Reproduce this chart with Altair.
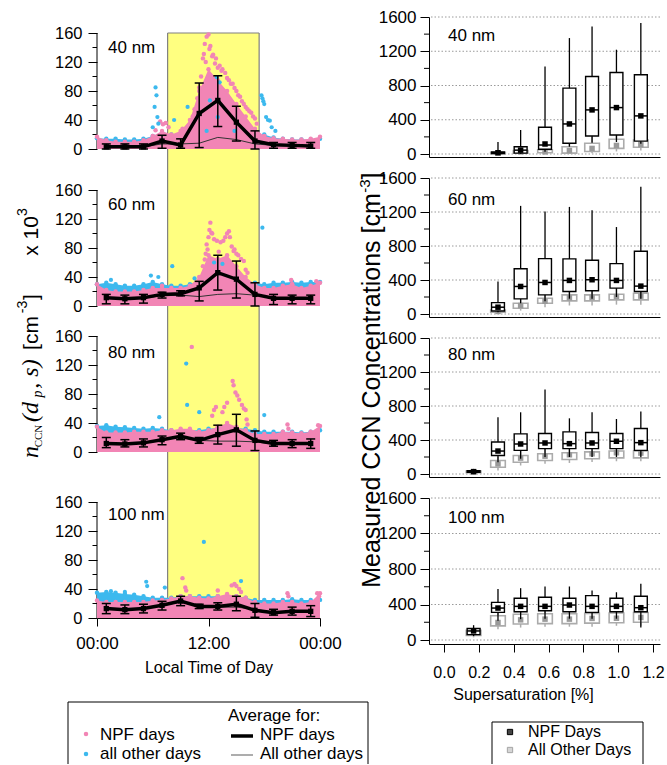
import altair as alt
import pandas as pd

FONT = "Liberation Sans"
SERIF = "Liberation Serif"
PINK = "#F285B5"
BLUE = "#3CB9EE"
YELLOW = "#FFFF80"

# ---------------- data: left column (time series) ----------------
SIZES = ["40 nm", "60 nm", "80 nm", "100 nm"]
HOURS = list(range(25))
AVG_HOURS = [1, 3, 5, 7, 9, 11, 13, 15, 17, 19, 21, 23]
NPF_WINDOW = [7.6, 17.45]

BLUE_ENV = [
    [15, 14, 14, 13, 13, 14, 18, 22, 20, 18, 20, 25, 30, 30, 28, 22, 20, 18, 20, 16, 14, 13, 13, 13, 14],
    [30, 32, 30, 28, 28, 30, 33, 30, 28, 28, 30, 35, 45, 50, 48, 42, 35, 32, 30, 32, 32, 33, 32, 33, 33],
    [36, 37, 35, 34, 33, 32, 33, 32, 30, 30, 30, 30, 32, 33, 33, 33, 32, 30, 28, 28, 28, 28, 27, 28, 30],
    [35, 36, 35, 33, 32, 30, 28, 28, 28, 30, 30, 30, 30, 30, 30, 30, 28, 25, 25, 25, 25, 26, 25, 25, 25],
]
PINK_ENV = [
    [17, 12, 10, 10, 10, 12, 18, 25, 20, 25, 40, 80, 110, 95, 80, 62, 45, 28, 18, 15, 14, 13, 13, 14, 17],
    [30, 22, 20, 20, 20, 22, 25, 25, 25, 25, 28, 40, 70, 65, 70, 55, 40, 30, 25, 25, 28, 30, 25, 28, 32],
    [35, 27, 27, 27, 28, 28, 28, 30, 30, 32, 32, 28, 30, 35, 40, 35, 30, 25, 25, 25, 28, 27, 26, 28, 36],
    [24, 22, 22, 22, 22, 22, 24, 25, 27, 30, 30, 28, 27, 30, 33, 30, 28, 22, 20, 20, 22, 22, 20, 22, 34],
]
PINK_PTS = [
    [(6.3, 26), (6.8, 38), (7.1, 34), (7.4, 36), (7.7, 30), (9.2, 28), (10.3, 45), (10.5, 55), (10.8, 70),
     (11.0, 85), (11.2, 100), (11.4, 125), (11.5, 131), (11.6, 145), (11.7, 120), (11.8, 155), (12.0, 158),
     (12.1, 138), (12.2, 142), (12.4, 128), (12.5, 130), (12.7, 118), (12.8, 125), (13.0, 112), (13.2, 115),
     (13.4, 108), (13.5, 110), (13.8, 105), (14.0, 98), (14.2, 95), (14.4, 90), (14.6, 90), (14.8, 84),
     (15.0, 80), (15.2, 74), (15.4, 72), (15.6, 66), (15.8, 62), (16.0, 58), (16.2, 55), (16.4, 52),
     (16.6, 50), (16.8, 45), (17.0, 42), (17.2, 35)],
    [(7.0, 28), (11.4, 55), (11.6, 64), (11.7, 72), (11.8, 85), (11.9, 78), (12.0, 95), (12.1, 105),
     (12.2, 115), (12.3, 101), (12.4, 100), (12.6, 92), (12.9, 90), (13.1, 75), (13.3, 88), (13.6, 90),
     (13.8, 95), (14.0, 100), (14.2, 103), (14.3, 95), (14.5, 82), (14.7, 76), (14.8, 78), (15.0, 72),
     (15.2, 70), (15.5, 65), (15.8, 62), (16.0, 50), (16.2, 46), (20.9, 36), (21.0, 30), (23.6, 34), (23.8, 30)],
    [(10.2, 145), (12.4, 50), (12.6, 58), (12.8, 62), (13.5, 55), (13.7, 62), (14.0, 68), (14.6, 98),
     (14.7, 92), (14.9, 82), (15.1, 78), (15.3, 72), (15.6, 65), (15.8, 60), (16.0, 58), (16.1, 45),
     (16.2, 38), (20.5, 38), (20.6, 32), (23.8, 37)],
    [(9.2, 55), (9.5, 42), (9.6, 38), (13.0, 38), (14.5, 45), (14.8, 47), (15.0, 44), (15.3, 40),
     (15.5, 36), (20.5, 34), (20.6, 30), (23.7, 34), (23.9, 30)],
]
BLUE_PTS = [
    [(6.0, 30), (6.2, 58), (6.3, 85), (6.4, 74), (6.5, 44), (6.6, 35), (8.3, 40), (9.75, 58), (11.8, 25),
     (12.15, 67), (12.9, 99), (13.0, 44), (13.2, 92), (14.8, 25), (17.7, 74), (17.8, 70), (17.9, 66),
     (18.0, 62), (18.2, 44), (18.4, 40), (18.6, 39), (18.8, 30), (19.2, 25)],
    [(1.5, 36), (5.8, 42), (6.6, 40), (8.1, 55), (10.5, 38), (12.6, 60), (13.5, 58), (17.8, 108)],
    [(6.7, 48), (9.6, 122), (9.7, 65), (11.0, 55), (18.0, 51)],
    [(1.5, 37), (3.0, 36), (5.3, 50), (5.4, 44), (7.3, 42), (11.5, 105), (15.5, 51)],
]
NPF_MEAN = [
    [3, 3, 3, 11, 5.5, 49, 67, 37, 11, 6, 5, 4],
    [11.5, 10, 11.5, 16, 17, 25, 46, 37, 16, 10.6, 10.6, 10.6],
    [11.7, 11, 12.6, 17, 21.6, 15.8, 24, 30.6, 16, 11.7, 11.7, 11.7],
    [13, 11.5, 13, 17.5, 23.4, 16, 16, 19, 10.6, 7.4, 9.2, 9.2],
]
NPF_LO = [
    [0, 0, 0, 1, 1, 2, 31, 11, 0, 1, 1, 1],
    [3, 3, 4, 11, 14, 7, 22, 11, 0, 2, 3, 3],
    [6, 7, 7, 10, 17, 12, 11, 8, 2, 8, 6, 5],
    [6, 6, 7, 11, 17, 13, 11, 10, 1, 4, 4, 2],
]
NPF_HI = [
    [7, 7, 7, 19, 14, 91, 101, 59, 25, 9, 9, 9],
    [16, 15, 16, 19, 21, 34, 70, 62, 32, 16, 15, 15],
    [20, 17, 18, 22, 26, 20, 37, 52, 29, 16, 17, 18],
    [20, 18, 19, 23, 30, 19, 21, 30, 20, 12, 15, 17],
]
OTHER_MEAN = [
    [3, 3, 3, 7, 7, 8, 16, 13, 7, 5, 4, 4],
    [11, 10, 11, 14, 15, 13, 16, 17, 15, 11, 11, 11],
    [11.7, 11, 12.6, 17, 20, 16, 15, 15, 14, 11, 11, 11.5],
    [13, 11.5, 13, 17, 22, 16, 15, 15, 12, 8, 9, 9],
]

# ---------------- data: right column (box plots) ----------------
SS = [
    [0.31, 0.44, 0.58, 0.72, 0.85, 0.99, 1.13],
    [0.31, 0.44, 0.58, 0.72, 0.85, 0.99, 1.13],
    [0.17, 0.31, 0.44, 0.58, 0.72, 0.85, 0.99, 1.13],
    [0.17, 0.31, 0.44, 0.58, 0.72, 0.85, 0.99, 1.13],
]
NPF_Q1 = [
    [5, 10, 55, 125, 211, 222, 150],
    [36, 178, 225, 265, 273, 304, 265],
    [20, 218, 278, 298, 298, 298, 298, 278],
    [61, 311, 318, 330, 318, 311, 318, 318],
]
NPF_Q3 = [
    [25, 85, 312, 769, 905, 952, 925],
    [134, 533, 652, 648, 632, 593, 739],
    [40, 377, 472, 476, 496, 488, 476, 536],
    [129, 424, 470, 481, 470, 500, 470, 493],
]
NPF_MED = [
    [15, 45, 105, 351, 515, 542, 445],
    [80, 324, 371, 395, 403, 395, 328],
    [28, 270, 353, 365, 357, 365, 385, 369],
    [102, 360, 379, 379, 394, 379, 379, 364],
]
NPF_AVG = [
    [15, 45, 117, 351, 515, 542, 445],
    [80, 324, 371, 395, 403, 395, 328],
    [28, 270, 353, 365, 357, 365, 385, 369],
    [102, 360, 379, 379, 394, 379, 379, 364],
]
NPF_WLO = [
    [0, 0, 27, 85, 130, 140, 120],
    [20, 126, 150, 180, 180, 200, 180],
    [10, 139, 180, 200, 200, 200, 200, 198],
    [45, 216, 235, 240, 240, 240, 240, 140],
]
NPF_WHI = [
    [140, 280, 1022, 1354, 1490, 1218, 1530],
    [383, 1272, 1205, 1260, 1221, 1023, 1497],
    [60, 667, 726, 993, 655, 726, 647, 734],
    [167, 576, 584, 603, 603, 557, 538, 633],
]
OTH_Q1 = [
    [3, 10, 15, 10, 30, 66, 78],
    [20, 67, 126, 154, 154, 166, 166],
    [15, 79, 139, 159, 170, 180, 190, 190],
    [50, 159, 180, 185, 185, 190, 195, 200],
]
OTH_Q3 = [
    [20, 40, 50, 85, 125, 172, 164],
    [47, 126, 186, 225, 225, 233, 245],
    [35, 159, 218, 238, 250, 260, 270, 270],
    [110, 273, 290, 295, 295, 300, 305, 310],
]
OTH_AVG = [
    [10, 25, 25, 40, 65, 100, 110],
    [30, 100, 150, 190, 195, 205, 210],
    [25, 119, 187, 210, 226, 238, 250, 246],
    [90, 197, 227, 235, 235, 243, 245, 254],
]
OTH_WLO = [
    [0, 0, 5, 5, 10, 30, 40],
    [10, 40, 80, 100, 100, 110, 110],
    [5, 40, 100, 120, 130, 140, 150, 150],
    [30, 120, 140, 150, 150, 150, 160, 160],
]
OTH_WHI = [
    [40, 70, 100, 150, 200, 280, 260],
    [70, 180, 260, 300, 300, 330, 350],
    [50, 200, 280, 320, 330, 340, 350, 350],
    [140, 330, 350, 360, 360, 370, 370, 380],
]

LEFT_TICKS = [0, 40, 80, 120, 160]
LEFT_MINOR = [20, 60, 100, 140]
TIME_TICKS = [0, 12, 24]
TIME_MINOR = [6, 18]
RIGHT_TICKS = [0, 400, 800, 1200, 1600]
RIGHT_MINOR = [200, 600, 1000, 1400]
SS_TICKS = [0.0, 0.2, 0.4, 0.6, 0.8, 1.0, 1.2]
LEGEND_POINTS = ["NPF days", "all other days"]
LEGEND_LINES = ["NPF days", "All other days"]
LEGEND_BOXES = ["NPF Days", "All Other Days"]

# ---------------- layout ----------------
LW = 223
K_LEFT = 116 / 160
L_MARG = [(16, 41), (0, 30), (0, 50), (0, 0)]
L_LABEL_Y = [31, 15, 17, 13]
RW = 231
R_SPAN = [137, 136, 136, 142]
R_BELOW = [3, 3, 3, 4]
R_LABEL_Y = [19, 22, 17, 20]
SS_DOMAIN = [-0.086, 1.24]

ONE = pd.DataFrame({"k": [0]})


def txt(text, x, y, size, font=FONT, style="normal", angle=0, align="left",
        baseline="middle", color="black"):
    return alt.Chart(ONE).mark_text(
        font=font, fontSize=size, fontStyle=style, angle=angle, align=align,
        baseline=baseline, color=color
    ).encode(x=alt.value(x), y=alt.value(y), text=alt.value(text))


def seg(x1, y1, x2, y2, color="black", width=1.0):
    return alt.Chart(ONE).mark_rule(color=color, strokeWidth=width).encode(
        x=alt.value(x1), y=alt.value(y1), x2=alt.value(x2), y2=alt.value(y2))


def left_panel(i):
    a, b = L_MARG[i]
    lo, hi = -b / K_LEFT, 160 + a / K_LEFT
    height = 116 + a + b
    xs = alt.Scale(domain=[0, 24], nice=False, zero=False)
    ys = alt.Scale(domain=[lo, hi], nice=False, zero=False)
    if i == 3:
        xax = alt.Axis(values=TIME_TICKS, labelExpr="datum.value == 12 ? '12:00' : '00:00'",
                       title="Local Time of Day", tickSize=8, labelPadding=9, titlePadding=8,
                       labelFontSize=17, titleFontSize=16, grid=False, labelFlush=False)
    else:
        xax = None
    yax = alt.Axis(values=LEFT_TICKS, tickSize=9, labelPadding=6, domain=False, grid=False,
                   title=None, labelFontSize=16.5, format="d")

    def X(f):
        return alt.X(f, type="quantitative", scale=xs, axis=xax)

    def Y(f):
        return alt.Y(f, type="quantitative", scale=ys, axis=yax)

    top = 160 if i == 0 else hi
    lo_r = 0 if i == 3 else lo
    win = pd.DataFrame({"x0": [NPF_WINDOW[0]], "x1": [NPF_WINDOW[1]], "y0": [lo_r], "y1": [top]})
    edges = pd.DataFrame({"x": NPF_WINDOW, "y0": [lo_r, lo_r], "y1": [top, top]})
    env = pd.DataFrame({"h": HOURS, "blue": BLUE_ENV[i], "pink": PINK_ENV[i], "z": [0] * len(HOURS)})
    ppts = pd.DataFrame(PINK_PTS[i], columns=["h", "v"])
    bpts = pd.DataFrame(BLUE_PTS[i], columns=["h", "v"])
    avg = pd.DataFrame({"h": AVG_HOURS, "mean": NPF_MEAN[i], "lo": NPF_LO[i], "hi": NPF_HI[i],
                        "other": OTHER_MEAN[i]})
    axis_line = pd.DataFrame({"x": [0], "y0": [0], "y1": [160]})
    minor = pd.DataFrame({"y": LEFT_MINOR})

    layers = [
        alt.Chart(win).mark_rect(color=YELLOW).encode(x=X("x0"), x2="x1", y=Y("y0"), y2="y1"),
        alt.Chart(edges).mark_rule(color="#808080", strokeWidth=1.2).encode(x=X("x"), y=Y("y0"), y2="y1"),
    ]
    if i == 0:
        layers.append(alt.Chart(win).mark_rule(color="#808080", strokeWidth=1.2).encode(
            x=X("x0"), x2="x1", y=Y("y1")))
    layers += [
        alt.Chart(axis_line).mark_rule(color="black", strokeWidth=1).encode(x=X("x"), y=Y("y0"), y2="y1"),
        alt.Chart(minor).mark_rule(color="black", strokeWidth=1).encode(
            x=alt.value(-4.5), x2=alt.value(0), y=Y("y")),
        alt.Chart(env).mark_area(color=BLUE, opacity=1).encode(x=X("h"), y=Y("blue"), y2="z"),
        alt.Chart(env).mark_circle(color=BLUE, size=20, opacity=1).encode(x=X("h"), y=Y("blue")),
        alt.Chart(env).mark_area(color=PINK, opacity=1).encode(x=X("h"), y=Y("pink"), y2="z"),
        alt.Chart(env).mark_circle(color=PINK, size=20, opacity=1).encode(x=X("h"), y=Y("pink")),
        alt.Chart(ppts).mark_circle(color=PINK, size=20, opacity=1).encode(x=X("h"), y=Y("v")),
        alt.Chart(bpts).mark_circle(color=BLUE, size=18, opacity=1).encode(x=X("h"), y=Y("v")),
        alt.Chart(avg).mark_line(color="#333333", strokeWidth=1).encode(x=X("h"), y=Y("other")),
        alt.Chart(avg).mark_line(color="black", strokeWidth=3.5).encode(x=X("h"), y=Y("mean")),
        alt.Chart(avg).mark_rule(color="black", strokeWidth=1.5).encode(x=X("h"), y=Y("lo"), y2="hi"),
        alt.Chart(avg).mark_tick(orient="horizontal", size=9, thickness=1.5, color="black",
                                 opacity=1).encode(x=X("h"), y=Y("lo")),
        alt.Chart(avg).mark_tick(orient="horizontal", size=9, thickness=1.5, color="black",
                                 opacity=1).encode(x=X("h"), y=Y("hi")),
        alt.Chart(avg).mark_square(size=28, color="black", opacity=1).encode(x=X("h"), y=Y("mean")),
        txt(SIZES[i], 11, L_LABEL_Y[i], 17),
    ]
    if i == 0:
        # white anchor so that the page origin is fixed
        layers.append(seg(-96.5, -16.5, -96.5, -15.5, color="white", width=1))
    if i == 2:
        ox, oy = 97, 336
        pieces = [
            ("n", SERIF, 24, "italic", 38, 452),
            ("CCN", SERIF, 11, "normal", 42, 436),
            ("(d", SERIF, 24, "italic", 38, 412),
            ("p", SERIF, 14, "italic", 42, 394),
            (", s)", SERIF, 24, "italic", 38, 374),
            ("[cm", FONT, 21, "normal", 38, 333),
            ("-3", FONT, 14, "normal", 27, 307),
            ("]", FONT, 21, "normal", 38, 297),
            ("x 10", FONT, 21, "normal", 38, 236),
            ("3", FONT, 14, "normal", 27, 212),
        ]
        for t, f, s, st, px, py in pieces:
            layers.append(txt(t, px - ox, py - oy, s, font=f, style=st, angle=270,
                              align="center", baseline="alphabetic"))
    if i == 3:
        ox, oy = 97, 502
        layers += [
            seg(68 - ox, 702 - oy, 68 - ox, 764 - oy),
            seg(68 - ox, 702 - oy, 368 - ox, 702 - oy),
            seg(368 - ox, 702 - oy, 368 - ox, 764 - oy),
            alt.Chart(ONE).mark_circle(color=PINK, size=20, opacity=1).encode(
                x=alt.value(86 - ox), y=alt.value(734 - oy)),
            alt.Chart(ONE).mark_circle(color=BLUE, size=20, opacity=1).encode(
                x=alt.value(86 - ox), y=alt.value(754 - oy)),
            txt(LEGEND_POINTS[0], 100 - ox, 735 - oy, 17),
            txt(LEGEND_POINTS[1], 100 - ox, 754 - oy, 17),
            txt("Average for:", 228 - ox, 716 - oy, 17),
            seg(231 - ox, 736 - oy, 253 - ox, 736 - oy, width=3.5),
            seg(231 - ox, 755 - oy, 253 - ox, 755 - oy, color="#777777", width=1.2),
            txt(LEGEND_LINES[0], 260 - ox, 735 - oy, 17),
            txt(LEGEND_LINES[1], 260 - ox, 754 - oy, 17),
        ]
    return alt.layer(*layers).properties(width=LW, height=height)


def right_panel(j):
    span, below = R_SPAN[j], R_BELOW[j]
    lo = -1600 * below / span
    height = span + below
    xs = alt.Scale(domain=SS_DOMAIN, nice=False, zero=False)
    ys = alt.Scale(domain=[lo, 1600], nice=False, zero=False)
    if j == 3:
        xax = alt.Axis(values=SS_TICKS, format=".1f", tickSize=8, labelPadding=12, grid=False,
                       title="Supersaturation [%]", titlePadding=6, titleFontSize=16,
                       labelFontSize=16, titleX=94, titleAlign="center", labelFlush=False)
    else:
        xax = alt.Axis(ticks=False, labels=False, title=None, grid=False)
    yax = alt.Axis(values=RIGHT_TICKS, tickSize=9, labelPadding=4, grid=False, title=None,
                   labelFontSize=17, format="d")

    def X(f):
        return alt.X(f, type="quantitative", scale=xs, axis=xax)

    def Y(f):
        return alt.Y(f, type="quantitative", scale=ys, axis=yax)

    ss = SS[j]
    npf = pd.DataFrame({"ss": ss, "q1": NPF_Q1[j], "q3": NPF_Q3[j], "med": NPF_MED[j],
                        "avg": NPF_AVG[j], "wlo": NPF_WLO[j], "whi": NPF_WHI[j]})
    oth = pd.DataFrame({"ss": ss, "q1": OTH_Q1[j], "q3": OTH_Q3[j], "avg": OTH_AVG[j],
                        "wlo": OTH_WLO[j], "whi": OTH_WHI[j]})
    grid = pd.DataFrame({"g": RIGHT_TICKS})
    minor = pd.DataFrame({"m": RIGHT_MINOR})

    layers = [
        alt.Chart(grid).mark_rule(color="#9a9a9a", strokeDash=[1.5, 2], strokeWidth=1).encode(y=Y("g")),
        alt.Chart(minor).mark_rule(color="black", strokeWidth=1).encode(
            x=alt.value(-5), x2=alt.value(0), y=Y("m")),
        alt.Chart(oth).mark_rule(color="#ababab", strokeWidth=1.5).encode(x=X("ss"), y=Y("wlo"), y2="whi"),
        alt.Chart(oth).transform_calculate(xl="datum.ss - 0.042", xr="datum.ss + 0.042").mark_rect(
            fill="white", stroke="#ababab", strokeWidth=1.6).encode(x=X("xl"), x2="xr", y=Y("q1"), y2="q3"),
        alt.Chart(oth).mark_square(size=30, color="#9a9a9a", opacity=1).encode(x=X("ss"), y=Y("avg")),
        alt.Chart(npf).mark_rule(color="black", strokeWidth=1.3).encode(x=X("ss"), y=Y("wlo"), y2="whi"),
        alt.Chart(npf).transform_calculate(xl="datum.ss - 0.037", xr="datum.ss + 0.037").mark_rect(
            fill="white", stroke="black", strokeWidth=1.4).encode(x=X("xl"), x2="xr", y=Y("q1"), y2="q3"),
        alt.Chart(npf).mark_tick(orient="horizontal", size=13, thickness=1.5, color="black",
                                 opacity=1).encode(x=X("ss"), y=Y("med")),
        alt.Chart(npf).mark_square(size=30, color="black", opacity=1).encode(x=X("ss"), y=Y("avg")),
        txt(SIZES[j], 19, R_LABEL_Y[j], 17),
    ]
    if j == 2:
        ox, oy = 429, 338
        layers += [
            txt("Measured CCN Concentrations [cm", 380 - ox, 390.5 - oy, 25, angle=270,
                align="center", baseline="alphabetic"),
            txt("-3", 370 - ox, 186 - oy, 15, angle=270, align="center", baseline="alphabetic"),
            txt("]", 380 - ox, 176 - oy, 25, angle=270, align="center", baseline="alphabetic"),
        ]
    if j == 3:
        ox, oy = 429, 498
        layers += [
            seg(492 - ox, 722 - oy, 492 - ox, 764 - oy),
            seg(492 - ox, 722 - oy, 643 - ox, 722 - oy),
            seg(643 - ox, 722 - oy, 643 - ox, 764 - oy),
            alt.Chart(ONE).mark_square(size=28, fill="#444444", stroke="black", strokeWidth=1,
                                       opacity=1).encode(x=alt.value(510 - ox), y=alt.value(732 - oy)),
            alt.Chart(ONE).mark_square(size=28, fill="#d5d5d5", stroke="#a5a5a5", strokeWidth=1,
                                       opacity=1).encode(x=alt.value(510 - ox), y=alt.value(750 - oy)),
            txt(LEGEND_BOXES[0], 528 - ox, 732 - oy, 16),
            txt(LEGEND_BOXES[1], 528 - ox, 750 - oy, 16),
        ]
    return alt.layer(*layers).properties(width=RW, height=height)


left = alt.vconcat(*[left_panel(i) for i in range(4)], spacing=0, bounds="flush")
right = alt.vconcat(*[right_panel(j) for j in range(4)], spacing=21, bounds="flush")

# with flush bounds the nested column has no width of its own, so the spacing
# carries the left plot width (223) plus the gap between the two columns (109)
chart = alt.hconcat(left, right, spacing=332, bounds="flush").properties(
    padding={"left": 0, "top": 0, "right": 0, "bottom": 0}
).configure_view(stroke=None).configure_axis(
    labelFont=FONT, titleFont=FONT, labelColor="black", titleColor="black",
    domainColor="black", tickColor="black", domainWidth=1, tickWidth=1,
    titleFontWeight="normal"
)

chart.save("out.html", embed_options={"renderer": "svg", "actions": False})
